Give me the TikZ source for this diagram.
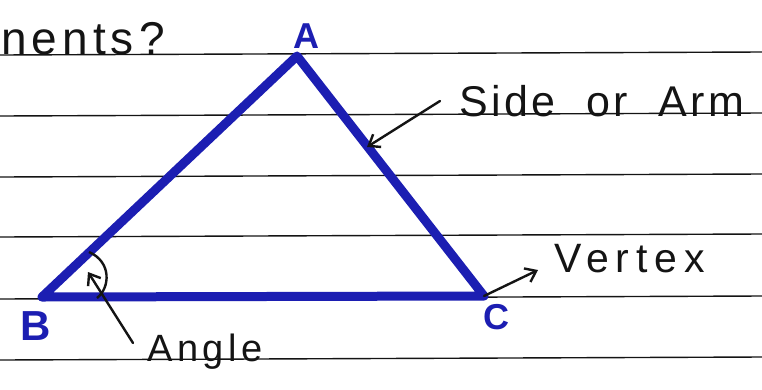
\documentclass[tikz,border=0pt]{standalone}
\usepackage{fontspec}
\setmainfont{Liberation Sans}
\usetikzlibrary{arrows.meta}
\definecolor{pen}{RGB}{28,30,178}
\definecolor{ink}{RGB}{20,20,20}
\tikzset{
  rule/.style={line width=1.4pt, ink},
  side/.style={line width=9pt, pen, line cap=round, line join=round},
  hand/.style={ink, inner sep=0pt, anchor=base west},
  vlabel/.style={pen, inner sep=0pt, font=\fontsize{36}{36}\selectfont\bfseries},
  pointer/.style={line width=2.4pt, ink, line cap=round, -{Straight Barb[length=10pt,width=15pt,line width=2.4pt]}}
}
\begin{document}
\begin{tikzpicture}[x=1pt,y=-1pt]
\useasboundingbox (0,0) rectangle (762,389);
\fill[white] (0,0) rectangle (762,389);
% ruled lines
\foreach \y in {55,116,177,237,299,360}
  \draw[rule] (0,\y) -- (762,\y-3);
% heading fragment
\node[hand, font=\fontsize{46}{46}\selectfont\addfontfeature{LetterSpace=11}] (head) at (1,54) {nents?};
% triangle
\coordinate (A) at (297,56);
\coordinate (B) at (42,297);
\coordinate (C) at (484,296);
\draw[side] (A) -- (B) -- (C) -- cycle;
% vertex labels
\node[vlabel] (la) at (306,36) {A};
\node[vlabel, font=\fontsize{42}{42}\selectfont\bfseries] (lb) at (36,326) {B};
\node[vlabel] (lc) at (496,317) {C};
% labels
\node[hand, font=\fontsize{43}{43}\selectfont\addfontfeature{LetterSpace=8}] (side) at (459,116) {Side\ \ or\ \ Arm};
\node[hand, font=\fontsize{41}{41}\selectfont\addfontfeature{LetterSpace=17}] (vert) at (554,272) {Vertex};
\node[hand, font=\fontsize{38}{38}\selectfont\addfontfeature{LetterSpace=12}] (ang) at (147,361) {Angle};
% pointers
\coordinate (sideTail) at (440,101);
\coordinate (sideHead) at (367,147);
\draw[pointer] (sideTail) -- (sideHead);
\coordinate (vertHead) at (538,270);
\draw[pointer] (C) -- (vertHead);
% angle arc
\coordinate (arcA) at (89,252);
\coordinate (arcB) at (97,298);
\draw[line width=2.4pt, ink] (arcA) .. controls (112,262) and (110,288) .. (arcB);
\coordinate (angTail) at (133,343);
\coordinate (angHead) at (88,272);
\draw[pointer] (angTail) -- (angHead);
\end{tikzpicture}
\end{document}
